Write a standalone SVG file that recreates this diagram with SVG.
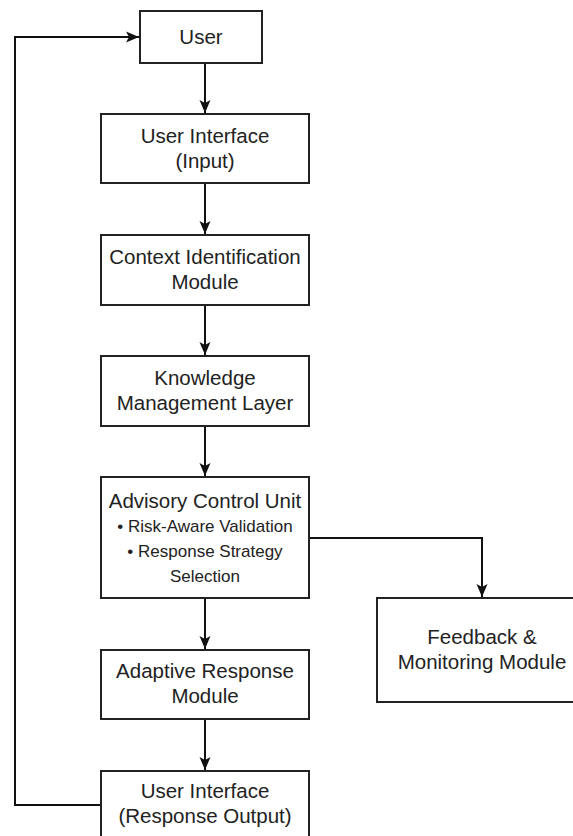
<svg xmlns="http://www.w3.org/2000/svg" width="573" height="836" viewBox="0 0 573 836">
<style>
.box{fill:#fff;stroke:#222;stroke-width:2}
.t{font-family:"Liberation Sans",Arial,sans-serif;font-size:20.5px;fill:#222;text-anchor:middle}
.s{font-family:"Liberation Sans",Arial,sans-serif;font-size:17px;fill:#222;text-anchor:middle}
.c{fill:none;stroke:#111;stroke-width:2}
</style>
<defs>
<marker id="ah" markerUnits="userSpaceOnUse" markerWidth="16" markerHeight="14" refX="0" refY="0" viewBox="-14 -7 16 14" orient="auto" overflow="visible">
<path d="M0,0 L-13,-5.5 L-10,0 L-13,5.5 Z" fill="#111"/>
</marker>
</defs>
<rect width="573" height="836" fill="#fff"/>
<g id="connectors">
<path class="c" d="M205,63 V113" marker-end="url(#ah)"/>
<path class="c" d="M205,183 V234" marker-end="url(#ah)"/>
<path class="c" d="M205,305 V355" marker-end="url(#ah)"/>
<path class="c" d="M205,426 V476" marker-end="url(#ah)"/>
<path class="c" d="M205,598 V649" marker-end="url(#ah)"/>
<path class="c" d="M205,719 V770" marker-end="url(#ah)"/>
<path class="c" d="M309,538 H482 V597" marker-end="url(#ah)"/>
<path class="c" d="M101,805 H15 V37 H139" marker-end="url(#ah)"/>
</g>
<g id="user">
<rect class="box" x="140" y="11" width="122" height="52"/>
<text class="t" x="201" y="44">User</text>
</g>
<g id="ui-input">
<rect class="box" x="101" y="114" width="208" height="69"/>
<text class="t" x="205" y="143">User Interface</text>
<text class="t" x="205" y="168">(Input)</text>
</g>
<g id="context">
<rect class="box" x="101" y="235" width="208" height="70"/>
<text class="t" x="205" y="264">Context Identification</text>
<text class="t" x="205" y="289">Module</text>
</g>
<g id="knowledge">
<rect class="box" x="101" y="356" width="208" height="70"/>
<text class="t" x="205" y="385">Knowledge</text>
<text class="t" x="205" y="410">Management Layer</text>
</g>
<g id="advisory">
<rect class="box" x="101" y="477" width="208" height="121"/>
<text class="t" x="205" y="508">Advisory Control Unit</text>
<text class="s" x="205" y="532">• Risk-Aware Validation</text>
<text class="s" x="205" y="557">• Response Strategy</text>
<text class="s" x="205" y="582">Selection</text>
</g>
<g id="feedback">
<rect class="box" x="377" y="598" width="210" height="104"/>
<text class="t" x="482" y="644">Feedback &amp;</text>
<text class="t" x="482" y="669">Monitoring Module</text>
</g>
<g id="adaptive">
<rect class="box" x="101" y="650" width="208" height="69"/>
<text class="t" x="205" y="678">Adaptive Response</text>
<text class="t" x="205" y="703">Module</text>
</g>
<g id="ui-output">
<rect class="box" x="101" y="771" width="208" height="69"/>
<text class="t" x="205" y="798">User Interface</text>
<text class="t" x="205" y="823">(Response Output)</text>
</g>
</svg>
